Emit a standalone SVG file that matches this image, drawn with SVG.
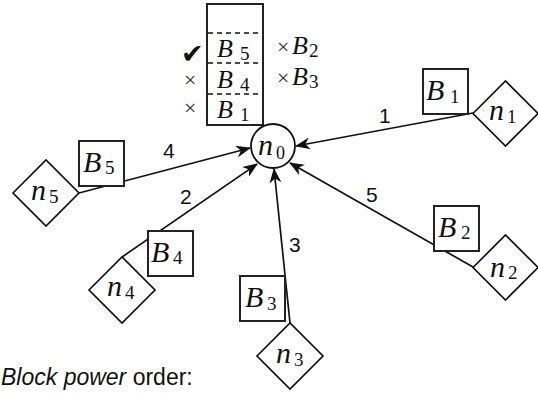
<svg xmlns="http://www.w3.org/2000/svg" width="538" height="396" viewBox="0 0 538 396">
<style>
.bx{fill:#fff;stroke:#222;stroke-width:2}
.dm{fill:#fff;stroke:#111;stroke-width:1.7}
.ed{fill:none;stroke:#111;stroke-width:1.7;marker-end:url(#ah)}
.dash{stroke:#111;stroke-width:1.6;stroke-dasharray:5 4}
.v{font-family:"Liberation Serif",serif;font-style:italic;font-size:30px;fill:#111}
.vs{font-family:"Liberation Serif",serif;font-size:26px;font-style:italic;fill:#111}
.s{font-family:"Liberation Serif",serif;font-size:19px;fill:#111}
.num{font-family:"Liberation Sans",Arial,sans-serif;font-size:21px;fill:#111}
.x{font-family:"Liberation Serif",serif;font-size:22px;fill:#333}
.cap{font-family:"Liberation Sans",Arial,sans-serif;font-size:23px;fill:#111}
</style>
<defs>
<marker id="ah" viewBox="0 0 15 12" refX="14" refY="6" markerWidth="15" markerHeight="12" markerUnits="userSpaceOnUse" orient="auto">
<path d="M0,0 L15,6 L0,12 L4.5,6 z" fill="#111"/>
</marker>
</defs>
<g id="connectors">
<line class="ed" x1="473" y1="113" x2="296" y2="146"/>
<line class="ed" x1="473" y1="267" x2="290" y2="163"/>
<line class="ed" x1="290" y1="323" x2="274" y2="169"/>
<line class="ed" x1="122" y1="257" x2="257" y2="164"/>
<line class="ed" x1="79" y1="193" x2="250" y2="148"/>
<text class="num" x="379" y="123">1</text>
<text class="num" x="366" y="202">5</text>
<text class="num" x="289" y="252">3</text>
<text class="num" x="180" y="204">2</text>
<text class="num" x="163" y="158">4</text>
</g>
<g id="stack">
<rect class="bx" x="207" y="4" width="56" height="121"/>
<line class="dash" x1="208" y1="33" x2="262" y2="33"/>
<line class="dash" x1="208" y1="63" x2="262" y2="63"/>
<line class="dash" x1="208" y1="94" x2="262" y2="94"/>
<text class="vs" x="217" y="57">B</text><text class="s" x="240" y="60">5</text>
<text class="vs" x="217" y="88">B</text><text class="s" x="240" y="91">4</text>
<text class="vs" x="217" y="118">B</text><text class="s" x="240" y="121">1</text>
<text style="font-family:'DejaVu Sans',sans-serif;font-size:27px;fill:#111" x="181" y="63">✔</text>
<text class="x" x="184" y="87">×</text>
<text class="x" x="184" y="115">×</text>
<text class="x" x="277" y="54">×</text><text class="vs" x="292" y="54">B</text><text class="s" x="309" y="57">2</text>
<text class="x" x="277" y="85">×</text><text class="vs" x="292" y="85">B</text><text class="s" x="309" y="88">3</text>
</g>
<g id="n0">
<circle cx="273" cy="146" r="22" fill="#fff" stroke="#111" stroke-width="1.8"/>
<text class="v" x="258" y="155">n</text><text class="s" x="276" y="159" style="font-size:18px">0</text>
</g>
<g id="n1">
<rect class="bx" x="423" y="69" width="45" height="45"/>
<text class="v" x="426" y="100">B</text><text class="s" x="450" y="103">1</text>
<polygon class="dm" points="473,113.5 505.5,81 538,113.5 505.5,146"/>
<text class="v" x="489" y="120">n</text><text class="s" x="507" y="123">1</text>
</g>
<g id="n2">
<rect class="bx" x="434" y="206" width="45" height="45"/>
<text class="v" x="438" y="237">B</text><text class="s" x="461" y="239">2</text>
<polygon class="dm" points="473,267.5 505.5,235 538,267.5 505.5,300"/>
<text class="v" x="490" y="277">n</text><text class="s" x="508" y="279">2</text>
</g>
<g id="n3">
<rect class="bx" x="240" y="276" width="45" height="45"/>
<text class="v" x="245" y="307">B</text><text class="s" x="267" y="310">3</text>
<polygon class="dm" points="257,356 290,323 323,356 290,389"/>
<text class="v" x="276" y="363">n</text><text class="s" x="294" y="366">3</text>
</g>
<g id="n4">
<rect class="bx" x="148" y="231" width="45" height="45"/>
<text class="v" x="151" y="262">B</text><text class="s" x="173" y="264">4</text>
<polygon class="dm" points="89,290 122,257 155,290 122,323"/>
<text class="v" x="107" y="296">n</text><text class="s" x="125" y="299">4</text>
</g>
<g id="n5">
<rect class="bx" x="79" y="141" width="45" height="45"/>
<text class="v" x="83" y="172">B</text><text class="s" x="105" y="174">5</text>
<polygon class="dm" points="13,193 46,160 79,193 46,226"/>
<text class="v" x="31" y="200">n</text><text class="s" x="49" y="203">5</text>
</g>
<text class="cap" x="1" y="385"><tspan font-style="italic">Block power</tspan> order:</text>
</svg>
